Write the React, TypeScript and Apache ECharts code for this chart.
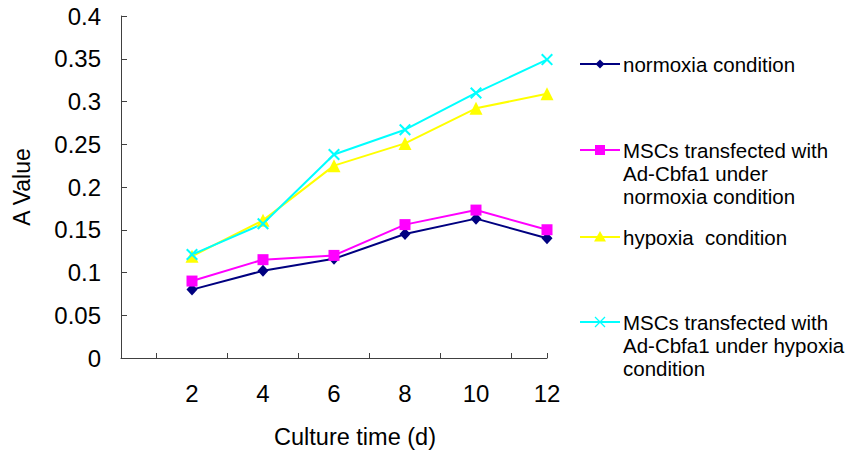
import React, { useEffect, useRef } from "react";
import * as echarts from "echarts";

const days = [2, 4, 6, 8, 10, 12];
const normoxia = [0.080, 0.102, 0.116, 0.145, 0.163, 0.140];
const mscNormoxia = [0.090, 0.115, 0.120, 0.156, 0.173, 0.150];
const hypoxia = [0.119, 0.161, 0.225, 0.251, 0.292, 0.309];
const mscHypoxia = [0.121, 0.157, 0.238, 0.267, 0.310, 0.349];

const seriesNames = [
  "normoxia condition",
  "MSCs transfected with\nAd-Cbfa1 under\nnormoxia condition",
  "hypoxia  condition",
  "MSCs transfected with\nAd-Cbfa1 under hypoxia\ncondition",
];
const xTickValues = [1, 3, 5, 7, 9, 11, 12];
const xLabelValues = [2, 4, 6, 8, 10, 12];

const FONT = "'Liberation Sans', Arial, sans-serif";
const CROSS =
  "path://M0,1.2L1.2,0L5,3.8L8.8,0L10,1.2L6.2,5L10,8.8L8.8,10L5,6.2L1.2,10L0,8.8L3.8,5Z";

export default function App() {
  const ref = useRef<HTMLDivElement>(null);
  useEffect(() => {
    if (!ref.current) return;
    const chart = echarts.init(ref.current, null, { renderer: "svg" });
    const colors = ["#000080", "#ff00ff", "#ffff00", "#00ffff"];
    const values = [normoxia, mscNormoxia, hypoxia, mscHypoxia];
    const symbols = ["diamond", "rect", "triangle", CROSS];
    const sizes: any[] = [[11, 12], 11, 13, 12];
    const legendY = [64, 150, 237, 322];

    const legendEls: any[] = [];
    legendY.forEach((y, i) => {
      const c = colors[i];
      legendEls.push({
        type: "line",
        shape: { x1: 580, y1: y, x2: 620, y2: y },
        style: { stroke: c, lineWidth: 2 },
      });
      if (i === 0) {
        legendEls.push({
          type: "polygon",
          shape: { points: [[600, y - 4.5], [604.5, y], [600, y + 4.5], [595.5, y]] },
          style: { fill: c },
        });
      } else if (i === 1) {
        legendEls.push({ type: "rect", shape: { x: 595, y: y - 5, width: 10, height: 10 }, style: { fill: c } });
      } else if (i === 2) {
        legendEls.push({
          type: "polygon",
          shape: { points: [[600, y - 6], [606, y + 4.5], [594, y + 4.5]] },
          style: { fill: c },
        });
      } else {
        legendEls.push({ type: "line", shape: { x1: 595, y1: y - 5, x2: 605, y2: y + 5 }, style: { stroke: c, lineWidth: 1.3 } });
        legendEls.push({ type: "line", shape: { x1: 595, y1: y + 5, x2: 605, y2: y - 5 }, style: { stroke: c, lineWidth: 1.3 } });
      }
      legendEls.push({
        type: "text",
        x: 623,
        y: y - 11.5,
        style: {
          text: seriesNames[i],
          fill: "#000",
          font: `20.5px ${FONT}`,
          lineHeight: 23,
          verticalAlign: "top",
          align: "left",
        },
      });
    });

    chart.setOption({
      animation: false,
      backgroundColor: "#fff",
      grid: { left: 121, right: 301, top: 16, bottom: 94, containLabel: false, outerBoundsMode: "none" },
      xAxis: {
        type: "value",
        min: 0,
        max: 12,
        interval: 1,
        splitLine: { show: false },
        axisLine: { show: true, lineStyle: { color: "#404040", width: 1 } },
        axisTick: { show: true, inside: true, length: 5, customValues: xTickValues, lineStyle: { color: "#404040" } },
        axisLabel: { customValues: xLabelValues, color: "#000", fontSize: 24, fontFamily: FONT, margin: 23 },
      },
      yAxis: {
        type: "value",
        min: 0,
        max: 0.4,
        interval: 0.05,
        splitLine: { show: false },
        axisLine: { show: true, lineStyle: { color: "#404040", width: 1 } },
        axisTick: { show: true, inside: true, length: 6, lineStyle: { color: "#404040" } },
        axisLabel: { color: "#000", fontSize: 24, fontFamily: FONT, margin: 20 },
      },
      graphic: [
        {
          type: "text",
          x: 355,
          y: 437,
          style: { text: "Culture time (d)", fill: "#000", font: `23.5px ${FONT}`, align: "center", verticalAlign: "middle" },
        },
        {
          type: "text",
          x: 22,
          y: 187,
          rotation: Math.PI / 2,
          style: { text: "A Value", fill: "#000", font: `23px ${FONT}`, align: "center", verticalAlign: "middle" },
        },
        ...legendEls,
      ],
      series: values.map((arr, i) => ({
        name: seriesNames[i],
        type: "line",
        data: days.map((d, j) => [d, arr[j]]),
        symbol: symbols[i],
        symbolSize: sizes[i],
        showAllSymbol: true,
        lineStyle: { color: colors[i], width: 2 },
        itemStyle: { color: colors[i] },
        emphasis: { disabled: true },
      })),
    });
    return () => chart.dispose();
  }, []);
  return <div ref={ref} style={{ position: "fixed", left: 0, top: 0, width: 848, height: 452 }} />;
}
